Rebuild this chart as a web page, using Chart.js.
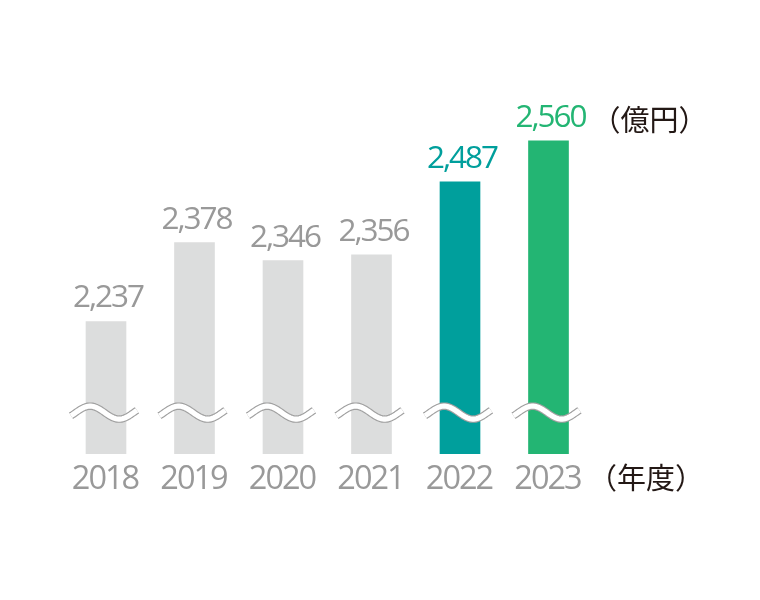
<!DOCTYPE html>
<html>
<head>
<meta charset="utf-8">
<script src="https://cdn.jsdelivr.net/npm/chart.js@4"></script>
<style>
  html, body { margin: 0; padding: 0; background: #fff; }
  #wrap { width: 760px; height: 600px; }
</style>
</head>
<body>
<div id="wrap"><canvas id="bar-chart" width="760" height="600"></canvas></div>
<script>
// chart data
const years = ["2018", "2019", "2020", "2021", "2022", "2023"];
const sales = [2237, 2378, 2346, 2356, 2487, 2560];
const valueUnit = "（億円）";
const yearUnit = "（年度）";
const axisMin = 2000;
const axisMax = 2800;
const breakAt = 2074; // where the wavy break mark sits

// colours
const barColors = ["#dcdddd", "#dcdddd", "#dcdddd", "#dcdddd", "#009f9c", "#23b573"];
const labelColors = ["#999999", "#999999", "#999999", "#999999", "#009f9c", "#23b573"];
const NUM_FONT = '"Open Sans", "Noto Sans", sans-serif';
const JP_FONT = '"Noto Sans CJK JP", sans-serif';

// draws the break marks, value labels, year labels and unit texts
const decorations = {
  id: "decorations",
  afterDatasetsDraw(chart) {
    const ctx = chart.ctx;
    const x = chart.scales.x;
    const y = chart.scales.y;
    const meta = chart.getDatasetMeta(0);
    const yBreak = y.getPixelForValue(breakAt);

    // wavy break over each bar
    meta.data.forEach((bar) => {
      const left = bar.x - 35;
      const w = 66;
      const period = 58;
      ctx.save();
      ctx.beginPath();
      for (let i = 0; i <= 50; i++) {
        const px = left + (i / 50) * w;
        const phase = -0.08 + (px - left) / period;
        const py = yBreak - 6.5 * Math.sin(2 * Math.PI * phase);
        if (i === 0) ctx.moveTo(px, py);
        else ctx.lineTo(px, py);
      }
      ctx.lineCap = "butt";
      ctx.lineJoin = "round";
      ctx.strokeStyle = "#a0a0a0";
      ctx.lineWidth = 7.5;
      ctx.stroke();
      ctx.strokeStyle = "#ffffff";
      ctx.lineWidth = 5.2;
      ctx.stroke();
      ctx.restore();
    });

    ctx.save();
    ctx.letterSpacing = "-2px";
    ctx.textAlign = "center";
    ctx.textBaseline = "alphabetic";

    // value labels above the bars
    ctx.font = "31.5px " + NUM_FONT;
    meta.data.forEach((bar, i) => {
      ctx.fillStyle = labelColors[i];
      ctx.fillText(sales[i].toLocaleString("en-US"), bar.x + 2, bar.y - 14);
    });

    // year labels
    ctx.font = "32.5px " + NUM_FONT;
    ctx.fillStyle = "#999999";
    years.forEach((yr, i) => {
      ctx.fillText(yr, x.getPixelForValue(i) - 1, 489);
    });

    // units
    ctx.letterSpacing = "0px";
    ctx.font = "29px " + JP_FONT;
    ctx.fillStyle = "#231815";
    ctx.textBaseline = "middle";
    ctx.fillText(valueUnit, 649.5, 120);
    ctx.fillText(yearUnit, 646, 478);
    ctx.restore();
  },
};

const ctx = document.getElementById("bar-chart").getContext("2d");
const barChart = new Chart(ctx, {
  type: "bar",
  data: {
    labels: years,
    datasets: [
      {
        data: sales,
        backgroundColor: barColors,
        borderWidth: 0,
        barThickness: 40,
      },
    ],
  },
  options: {
    responsive: false,
    animation: false,
    layout: {
      padding: { left: 61.75, right: 167.25, top: 6.7, bottom: 146 },
    },
    plugins: {
      legend: { display: false },
      tooltip: { enabled: false },
    },
    scales: {
      x: { display: false },
      y: { display: false, min: axisMin, max: axisMax },
    },
  },
  plugins: [decorations],
});
</script>
</body>
</html>
